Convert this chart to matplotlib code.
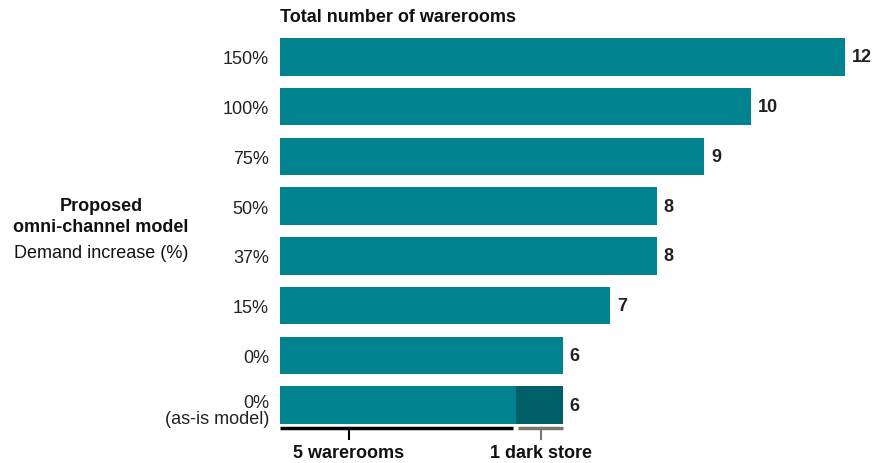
import matplotlib
matplotlib.use("Agg")
import matplotlib.pyplot as plt
from matplotlib.transforms import ScaledTranslation

plt.rcParams['font.family'] = ['Liberation Sans', 'DejaVu Sans']

# Data
categories = ['150%', '100%', '75%', '50%', '37%', '15%', '0%', '0%\n(as-is model)']
warerooms = [12, 10, 9, 8, 8, 7, 6, 5]
dark_stores = [0, 0, 0, 0, 0, 0, 0, 1]
totals = [w + d for w, d in zip(warerooms, dark_stores)]

teal = '#00838F'
dark_teal = '#005E66'
fs = 13

fig = plt.figure(figsize=(8.72, 4.64), dpi=100)
ax = fig.add_axes([280 / 872, 0.0713, 592 / 872, 0.8574])

y = list(range(len(categories)))
ax.barh(y, warerooms, height=0.75, color=teal)
ax.barh(y, dark_stores, left=warerooms, height=0.75, color=dark_teal)

ax.set_xlim(0, 592 / 47.1)
ax.set_ylim(len(categories) - 0.5, -0.5)

for yi, t in zip(y, totals):
    ax.text(t + 0.15, yi, str(t), va='center', ha='left', fontsize=fs,
            fontweight='bold', color='#222222')

ax.set_yticks(y)
ax.set_yticklabels(categories, fontsize=fs, color='#222222', ha='right',
                   linespacing=0.95)
ax.tick_params(axis='y', length=0, pad=8)
ax.set_xticks([])
for s in ax.spines.values():
    s.set_visible(False)

# nudge the two-line label down a little
lbl = ax.get_yticklabels()[-1]
lbl.set_transform(lbl.get_transform() + ScaledTranslation(0, -4 / 100, fig.dpi_scale_trans))

# Title above bars
ax.text(0, -0.64, 'Total number of warerooms', fontsize=fs, fontweight='bold',
        ha='left', va='bottom', color='#111111')

# Left group labels
fig.text(101 / 872, 1 - 207 / 464, 'Proposed', fontsize=fs, fontweight='bold',
         ha='center', va='center', color='#111111')
fig.text(101 / 872, 1 - 228 / 464, 'omni-channel model', fontsize=fs, fontweight='bold',
         ha='center', va='center', color='#111111')
fig.text(101 / 872, 1 - 254 / 464, 'Demand increase (%)', fontsize=fs,
         ha='center', va='center', color='#111111')

# Brackets under the as-is bar
last = len(categories) - 1
yb = last + 0.46
ax.plot([0, warerooms[last] - 0.05], [yb, yb], color='black', lw=2.5,
        clip_on=False, solid_capstyle='butt')
ax.plot([1.46, 1.46], [yb, yb + 0.22], color='black', lw=1.5, clip_on=False)
ax.text(1.46, yb + 0.5, '5 warerooms', fontsize=fs, fontweight='bold',
        ha='center', va='center', color='#111111')

ax.plot([warerooms[last] + 0.05, totals[last]], [yb, yb], color='#7A786E', lw=2.5,
        clip_on=False, solid_capstyle='butt')
ax.plot([5.54, 5.54], [yb, yb + 0.22], color='#7A786E', lw=1.5, clip_on=False)
ax.text(5.54, yb + 0.5, '1 dark store', fontsize=fs, fontweight='bold',
        ha='center', va='center', color='#111111')

fig.savefig('out.png', dpi=100)
